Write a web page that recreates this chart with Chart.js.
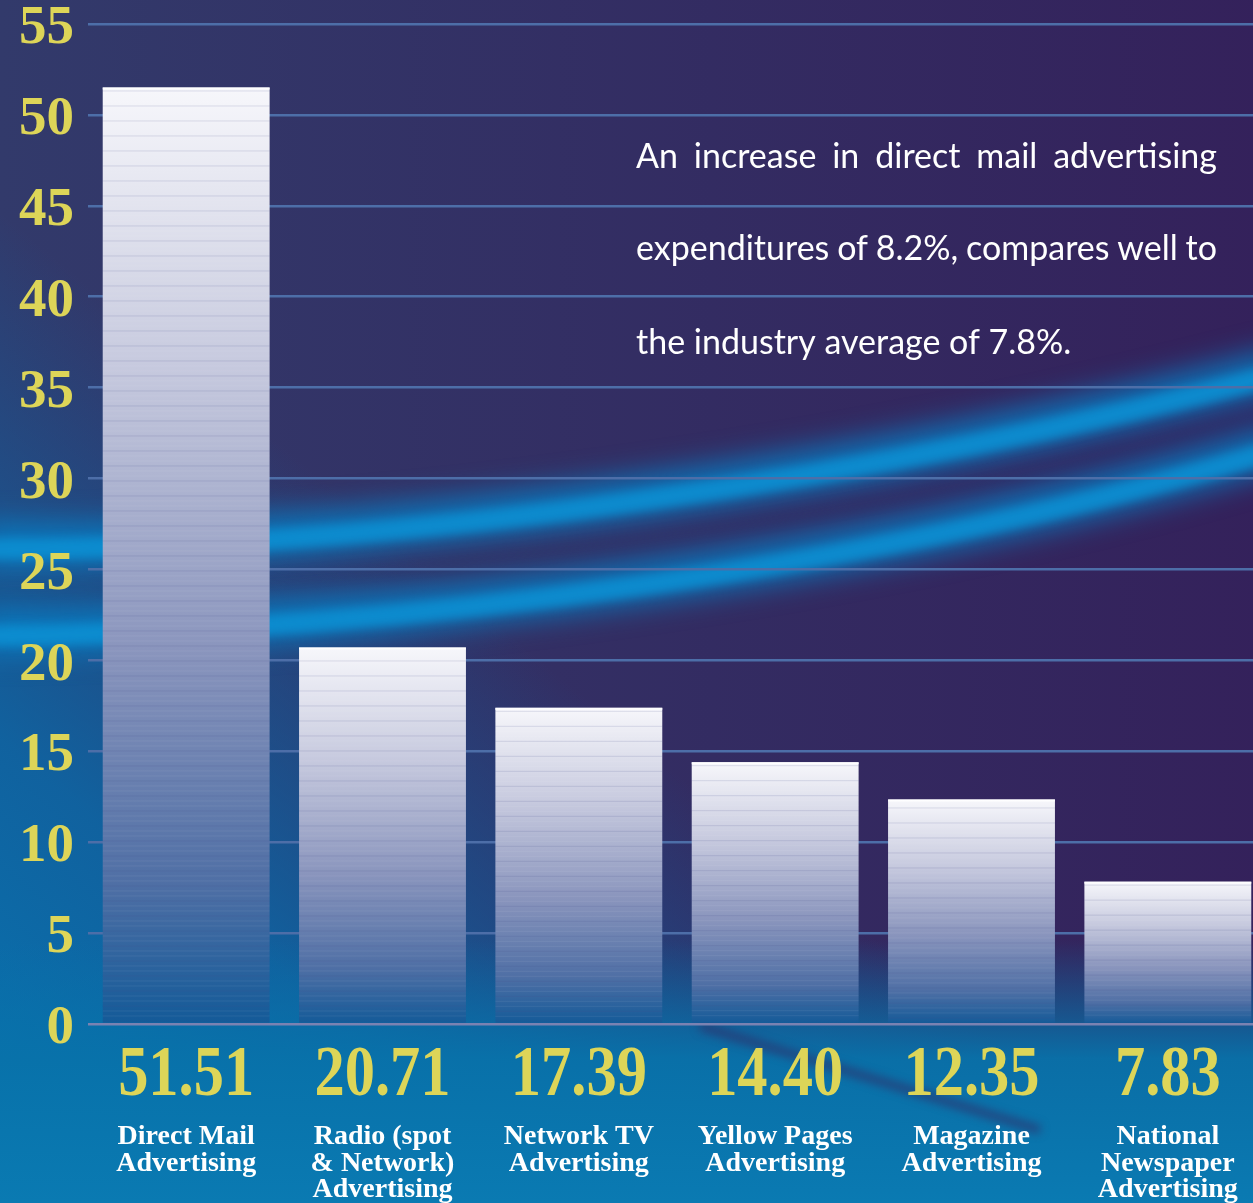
<!DOCTYPE html>
<html>
<head>
<meta charset="utf-8">
<script src="https://cdn.jsdelivr.net/npm/chart.js@4.4.1/dist/chart.umd.min.js"></script>
<style>
  html, body { margin: 0; padding: 0; background: #2f2e60; overflow: hidden; }
  #wrap { width: 1270px; height: 1203px; }
</style>
</head>
<body>
<div id="wrap"><canvas id="adChart" width="1270" height="1203"></canvas></div>
<script>
// Advertising expenditure by medium
const categories = [
  ["Direct Mail", "Advertising"],
  ["Radio (spot", "& Network)", "Advertising"],
  ["Network TV", "Advertising"],
  ["Yellow Pages", "Advertising"],
  ["Magazine", "Advertising"],
  ["National", "Newspaper", "Advertising"]
];
const values = [51.51, 20.71, 17.39, 14.40, 12.35, 7.83];
const yMin = 0;
const yMax = 55;
const yStep = 5;
const noteLines = [
  "An increase in direct mail advertising",
  "expenditures of 8.2%, compares well to",
  "the industry average of 7.8%."
];

const YELLOW = "#ddd558";

// painted backdrop: navy/purple with the blue swoosh
const backdrop = {
  id: "backdrop",
  beforeDraw(chart) {
    const ctx = chart.ctx;
    const w = chart.width, h = chart.height;
    ctx.save();
    let g = ctx.createLinearGradient(0, 0, w, 0);
    g.addColorStop(0, "#323a6b");
    g.addColorStop(1, "#34215b");
    ctx.fillStyle = g;
    ctx.fillRect(0, 0, w, h);

    // teal coming in from the lower left
    g = ctx.createLinearGradient(0, h, 650, 420);
    g.addColorStop(0, "rgba(6,118,178,1)");
    g.addColorStop(0.35, "rgba(8,108,172,0.8)");
    g.addColorStop(0.75, "rgba(8,100,170,0)");
    ctx.fillStyle = g;
    ctx.fillRect(0, 0, w, h);

    // band along the bottom
    g = ctx.createLinearGradient(0, 940, 0, h);
    g.addColorStop(0, "rgba(8,112,170,0)");
    g.addColorStop(0.45, "rgba(8,114,170,0.95)");
    g.addColorStop(1, "#0a7ab2");
    ctx.fillStyle = g;
    ctx.fillRect(0, 940, w, h - 940);

    // swooshes
    const curves = [
      [-20, 545, 400, 548, 900, 470, 1280, 370],
      [-20, 632, 400, 630, 900, 560, 1280, 445]
    ];
    ctx.filter = "blur(14px)";
    ctx.strokeStyle = "rgba(8,125,195,0.85)";
    ctx.lineWidth = 44;
    curves.forEach(c => {
      ctx.beginPath();
      ctx.moveTo(c[0], c[1]);
      ctx.bezierCurveTo(c[2], c[3], c[4], c[5], c[6], c[7]);
      ctx.stroke();
    });
    ctx.filter = "blur(5px)";
    ctx.strokeStyle = "rgba(12,145,212,0.85)";
    ctx.lineWidth = 20;
    curves.forEach(c => {
      ctx.beginPath();
      ctx.moveTo(c[0], c[1] + 4);
      ctx.bezierCurveTo(c[2], c[3] + 4, c[4], c[5] + 4, c[6], c[7] + 4);
      ctx.stroke();
    });

    // dark streak at the bottom right
    ctx.filter = "blur(5px)";
    ctx.strokeStyle = "rgba(50,40,100,0.65)";
    ctx.lineWidth = 8;
    ctx.beginPath();
    ctx.moveTo(700, 1026);
    ctx.lineTo(1040, 1130);
    ctx.stroke();
    ctx.restore();
  }
};

// fine horizontal stripes on the bars
const barStripes = {
  id: "barStripes",
  afterDatasetsDraw(chart) {
    const ctx = chart.ctx;
    ctx.save();
    chart.getDatasetMeta(0).data.forEach(bar => {
      const left = bar.x - bar.width / 2;
      for (let y = bar.y + 3; y < bar.base - 4; y += 5) {
        ctx.fillStyle = (Math.round(y) % 3 === 0) ? "rgba(70,80,140,0.16)" : "rgba(255,255,255,0.07)";
        ctx.fillRect(left, y, bar.width, 1);
      }
      ctx.fillStyle = "rgba(255,255,255,0.9)";
      ctx.fillRect(left, bar.y, bar.width, 2);
    });
    ctx.restore();
  }
};

// big value figures under each bar + the note
const extraText = {
  id: "extraText",
  afterDraw(chart) {
    const ctx = chart.ctx;
    ctx.save();
    ctx.fillStyle = YELLOW;
    ctx.font = "bold 72px 'Liberation Serif'";
    ctx.textAlign = "center";
    ctx.textBaseline = "alphabetic";
    chart.getDatasetMeta(0).data.forEach((bar, i) => {
      ctx.save();
      ctx.translate(bar.x, 1095);
      ctx.scale(0.84, 1);
      ctx.fillText(values[i].toFixed(2), 0, 0);
      ctx.restore();
    });

    ctx.fillStyle = "#ffffff";
    ctx.font = "34px Lato";
    ctx.textAlign = "left";
    const x0 = 636, x1 = 1217;
    const baselines = [168, 260, 354];
    noteLines.forEach((line, i) => {
      const words = line.split(" ");
      if (i < noteLines.length - 1) {
        const used = words.reduce((s, wd) => s + ctx.measureText(wd).width, 0);
        const gap = (x1 - x0 - used) / (words.length - 1);
        let x = x0;
        words.forEach(wd => {
          ctx.fillText(wd, x, baselines[i]);
          x += ctx.measureText(wd).width + gap;
        });
      } else {
        ctx.fillText(line, x0, baselines[i]);
      }
    });
    ctx.restore();
  }
};

const ctx = document.getElementById("adChart").getContext("2d");
new Chart(ctx, {
  type: "bar",
  data: {
    labels: categories,
    datasets: [{
      data: values,
      backgroundColor: function(c) {
        const chart = c.chart;
        const area = chart.chartArea;
        if (!area || c.parsed === undefined) return "#c8cbe0";
        const top = chart.scales.y.getPixelForValue(c.parsed.y);
        const g = chart.ctx.createLinearGradient(0, top, 0, area.bottom);
        g.addColorStop(0, "#f7f7fb");
        g.addColorStop(0.3, "#c6c9de");
        g.addColorStop(0.6, "#8a95bd");
        g.addColorStop(0.85, "#4f6fa5");
        g.addColorStop(1, "#135a98");
        return g;
      },
      borderWidth: 0,
      barPercentage: 0.85,
      categoryPercentage: 1
    }]
  },
  options: {
    responsive: false,
    animation: false,
    devicePixelRatio: 1,
    layout: { padding: { top: 24, right: 4, left: 0, bottom: 0 } },
    plugins: {
      legend: { display: false },
      tooltip: { enabled: false }
    },
    scales: {
      x: {
        grid: { display: false, drawTicks: false },
        border: { display: false },
        ticks: {
          color: "#ffffff",
          padding: 99,
          maxRotation: 0,
          autoSkip: false,
          font: { family: "'Liberation Serif'", size: 28, weight: "600", lineHeight: 0.96 }
        },
        afterFit: scale => {
          scale.height = 179;
          scale.paddingLeft = 0;
          scale.paddingRight = 0;
        }
      },
      y: {
        min: yMin,
        max: yMax,
        grid: {
          drawTicks: false,
          lineWidth: 2.5,
          color: c => (c.tick && c.tick.value === 0) ? "#7a82b2" : "#4d6ea8"
        },
        border: { display: false },
        ticks: {
          stepSize: yStep,
          color: YELLOW,
          padding: 14,
          labelOffset: 5,
          font: { family: "'Liberation Serif'", size: 55, weight: "bold", lineHeight: 0.85 }
        },
        afterFit: scale => {
          scale.width = 88;
          scale.paddingTop = 0;
          scale.paddingBottom = 0;
        }
      }
    }
  },
  plugins: [backdrop, barStripes, extraText]
});
</script>
</body>
</html>
